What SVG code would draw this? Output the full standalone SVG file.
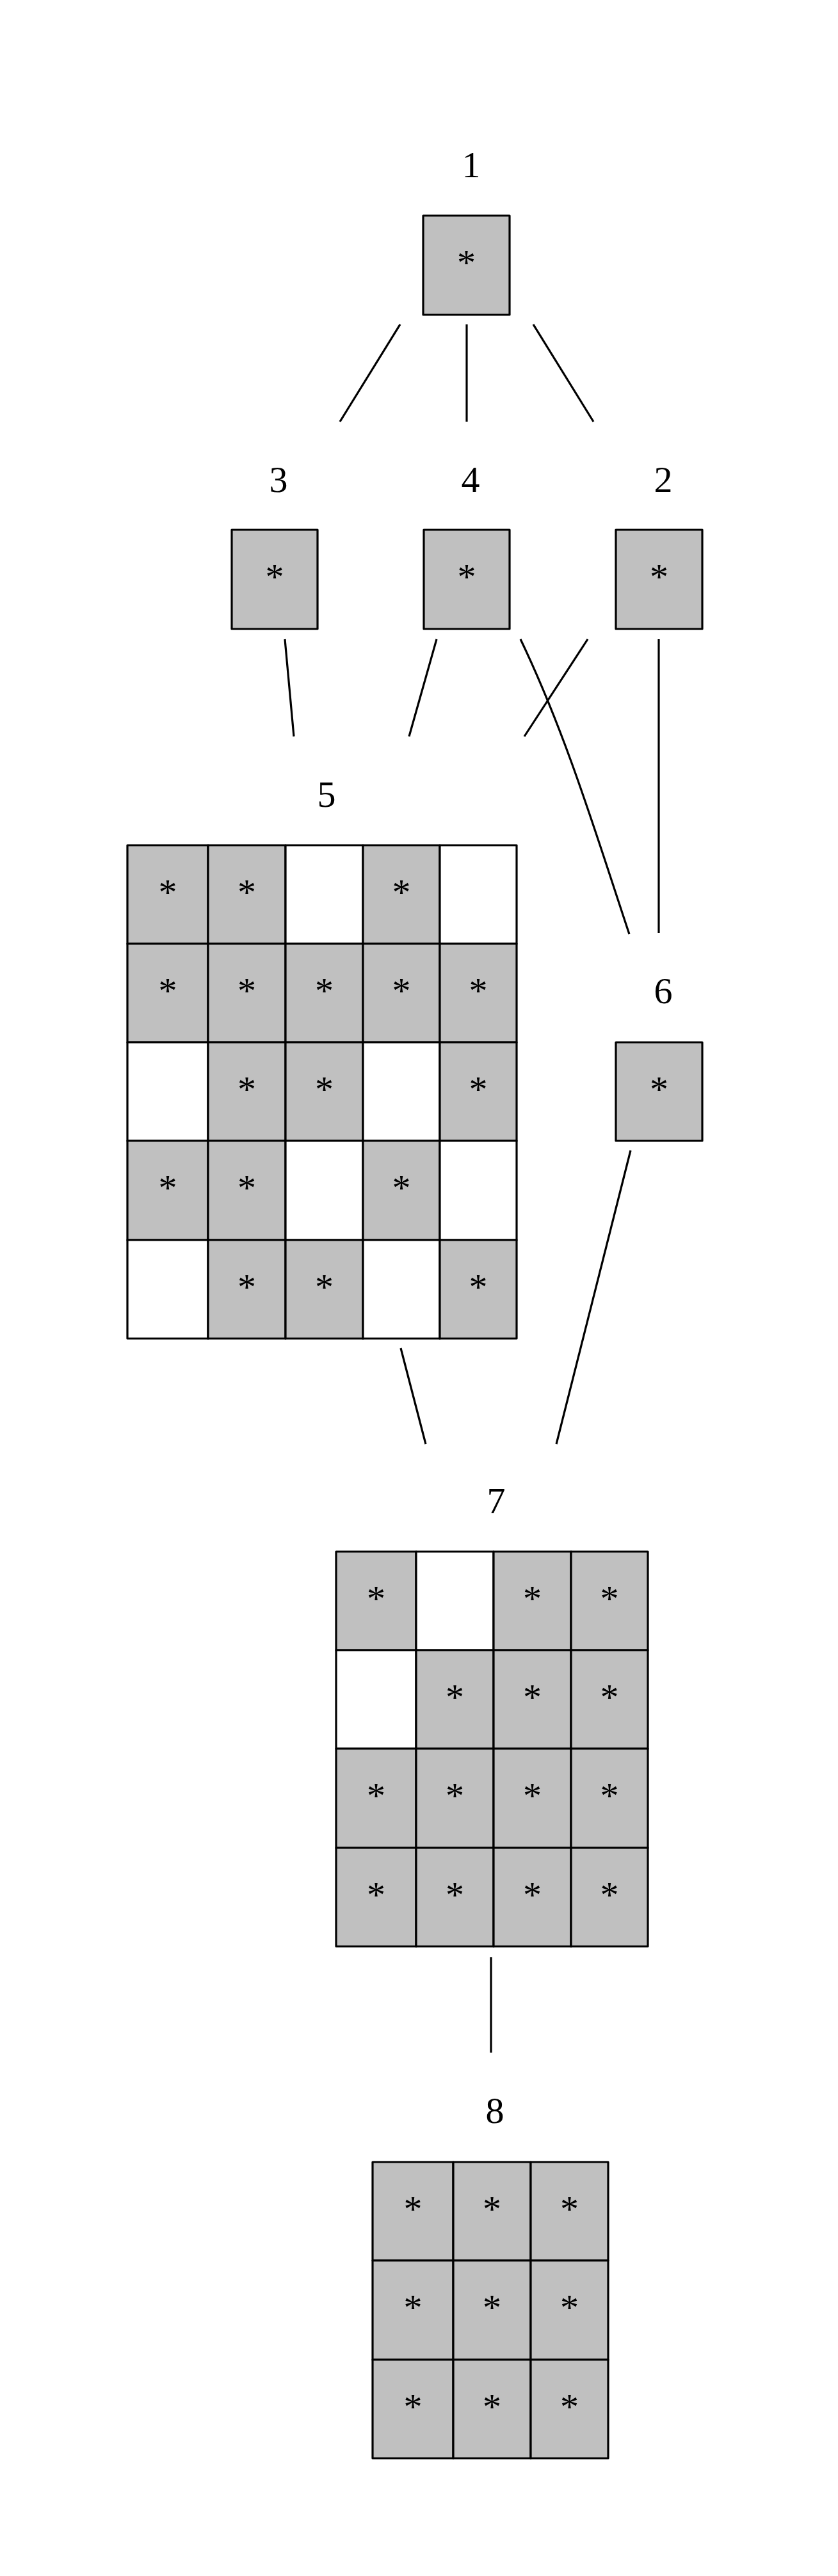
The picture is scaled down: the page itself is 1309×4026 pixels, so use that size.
<svg xmlns="http://www.w3.org/2000/svg" width="1309" height="4026" viewBox="0 0 1309 4026">
<style>
.g{fill:#c0c0c0;stroke:#000;stroke-width:3.2;stroke-linejoin:round}
.w{fill:#fff;stroke:#000;stroke-width:3.2;stroke-linejoin:round}
.t{font-family:"Liberation Serif","Times New Roman",serif;font-size:58px;text-anchor:middle;fill:#000}
.e{fill:none;stroke:#000;stroke-width:3.2}
</style>
<rect width="1309" height="4026" fill="#fff"/>
<g id="edges">
<line class="e" x1="625" y1="507" x2="531" y2="659"/>
<line class="e" x1="729" y1="507" x2="729" y2="659"/>
<line class="e" x1="833" y1="507" x2="927" y2="659"/>
<line class="e" x1="445" y1="999" x2="459" y2="1151"/>
<line class="e" x1="682" y1="999" x2="639" y2="1151"/>
<line class="e" x1="918" y1="999" x2="819" y2="1151"/>
<path class="e" d="M813,999 C885,1149 933,1310 983,1460"/>
<line class="e" x1="1029" y1="999" x2="1029" y2="1458"/>
<line class="e" x1="626" y1="2107" x2="665" y2="2257"/>
<line class="e" x1="985" y1="1798" x2="869" y2="2257"/>
<line class="e" x1="767" y1="3059" x2="767" y2="3208"/>
</g>
<g id="node1">
<text class="t" x="736" y="277">1</text>
<rect class="g" x="661" y="337" width="135" height="155"/>
<text class="t" x="728.5" y="430">*</text>
</g>
<g id="node3">
<text class="t" x="435" y="769">3</text>
<rect class="g" x="362" y="828" width="134" height="155"/>
<text class="t" x="429" y="921">*</text>
</g>
<g id="node4">
<text class="t" x="735" y="769">4</text>
<rect class="g" x="662" y="828" width="134" height="155"/>
<text class="t" x="729" y="921">*</text>
</g>
<g id="node2">
<text class="t" x="1036" y="769">2</text>
<rect class="g" x="962" y="828" width="135" height="155"/>
<text class="t" x="1029.5" y="921">*</text>
</g>
<g id="node6">
<text class="t" x="1036" y="1568">6</text>
<rect class="g" x="962" y="1629" width="135" height="154"/>
<text class="t" x="1029.5" y="1722">*</text>
</g>
<g id="node5">
<text class="t" x="510" y="1261">5</text>
<rect class="g" x="199" y="1321" width="126" height="154"/>
<rect class="g" x="325" y="1321" width="121" height="154"/>
<rect class="w" x="446" y="1321" width="121" height="154"/>
<rect class="g" x="567" y="1321" width="120" height="154"/>
<rect class="w" x="687" y="1321" width="120" height="154"/>
<rect class="g" x="199" y="1475" width="126" height="154"/>
<rect class="g" x="325" y="1475" width="121" height="154"/>
<rect class="g" x="446" y="1475" width="121" height="154"/>
<rect class="g" x="567" y="1475" width="120" height="154"/>
<rect class="g" x="687" y="1475" width="120" height="154"/>
<rect class="w" x="199" y="1629" width="126" height="154"/>
<rect class="g" x="325" y="1629" width="121" height="154"/>
<rect class="g" x="446" y="1629" width="121" height="154"/>
<rect class="w" x="567" y="1629" width="120" height="154"/>
<rect class="g" x="687" y="1629" width="120" height="154"/>
<rect class="g" x="199" y="1783" width="126" height="155"/>
<rect class="g" x="325" y="1783" width="121" height="155"/>
<rect class="w" x="446" y="1783" width="121" height="155"/>
<rect class="g" x="567" y="1783" width="120" height="155"/>
<rect class="w" x="687" y="1783" width="120" height="155"/>
<rect class="w" x="199" y="1938" width="126" height="154"/>
<rect class="g" x="325" y="1938" width="121" height="154"/>
<rect class="g" x="446" y="1938" width="121" height="154"/>
<rect class="w" x="567" y="1938" width="120" height="154"/>
<rect class="g" x="687" y="1938" width="120" height="154"/>
<text class="t" x="262" y="1414">*</text>
<text class="t" x="385.5" y="1414">*</text>
<text class="t" x="627" y="1414">*</text>
<text class="t" x="262" y="1568">*</text>
<text class="t" x="385.5" y="1568">*</text>
<text class="t" x="506.5" y="1568">*</text>
<text class="t" x="627" y="1568">*</text>
<text class="t" x="747" y="1568">*</text>
<text class="t" x="385.5" y="1722">*</text>
<text class="t" x="506.5" y="1722">*</text>
<text class="t" x="747" y="1722">*</text>
<text class="t" x="262" y="1876">*</text>
<text class="t" x="385.5" y="1876">*</text>
<text class="t" x="627" y="1876">*</text>
<text class="t" x="385.5" y="2031">*</text>
<text class="t" x="506.5" y="2031">*</text>
<text class="t" x="747" y="2031">*</text>
</g>
<g id="node7">
<text class="t" x="775" y="2365">7</text>
<rect class="g" x="525" y="2425" width="125" height="154"/>
<rect class="w" x="650" y="2425" width="121" height="154"/>
<rect class="g" x="771" y="2425" width="121" height="154"/>
<rect class="g" x="892" y="2425" width="120" height="154"/>
<rect class="w" x="525" y="2579" width="125" height="154"/>
<rect class="g" x="650" y="2579" width="121" height="154"/>
<rect class="g" x="771" y="2579" width="121" height="154"/>
<rect class="g" x="892" y="2579" width="120" height="154"/>
<rect class="g" x="525" y="2733" width="125" height="155"/>
<rect class="g" x="650" y="2733" width="121" height="155"/>
<rect class="g" x="771" y="2733" width="121" height="155"/>
<rect class="g" x="892" y="2733" width="120" height="155"/>
<rect class="g" x="525" y="2888" width="125" height="154"/>
<rect class="g" x="650" y="2888" width="121" height="154"/>
<rect class="g" x="771" y="2888" width="121" height="154"/>
<rect class="g" x="892" y="2888" width="120" height="154"/>
<text class="t" x="587.5" y="2518">*</text>
<text class="t" x="831.5" y="2518">*</text>
<text class="t" x="952" y="2518">*</text>
<text class="t" x="710.5" y="2672">*</text>
<text class="t" x="831.5" y="2672">*</text>
<text class="t" x="952" y="2672">*</text>
<text class="t" x="587.5" y="2826">*</text>
<text class="t" x="710.5" y="2826">*</text>
<text class="t" x="831.5" y="2826">*</text>
<text class="t" x="952" y="2826">*</text>
<text class="t" x="587.5" y="2981">*</text>
<text class="t" x="710.5" y="2981">*</text>
<text class="t" x="831.5" y="2981">*</text>
<text class="t" x="952" y="2981">*</text>
</g>
<g id="node8">
<text class="t" x="773" y="3318">8</text>
<rect class="g" x="582" y="3379" width="126" height="154"/>
<rect class="g" x="708" y="3379" width="121" height="154"/>
<rect class="g" x="829" y="3379" width="121" height="154"/>
<rect class="g" x="582" y="3533" width="126" height="155"/>
<rect class="g" x="708" y="3533" width="121" height="155"/>
<rect class="g" x="829" y="3533" width="121" height="155"/>
<rect class="g" x="582" y="3688" width="126" height="154"/>
<rect class="g" x="708" y="3688" width="121" height="154"/>
<rect class="g" x="829" y="3688" width="121" height="154"/>
<text class="t" x="645" y="3472">*</text>
<text class="t" x="768.5" y="3472">*</text>
<text class="t" x="889.5" y="3472">*</text>
<text class="t" x="645" y="3626">*</text>
<text class="t" x="768.5" y="3626">*</text>
<text class="t" x="889.5" y="3626">*</text>
<text class="t" x="645" y="3781">*</text>
<text class="t" x="768.5" y="3781">*</text>
<text class="t" x="889.5" y="3781">*</text>
</g>
</svg>
